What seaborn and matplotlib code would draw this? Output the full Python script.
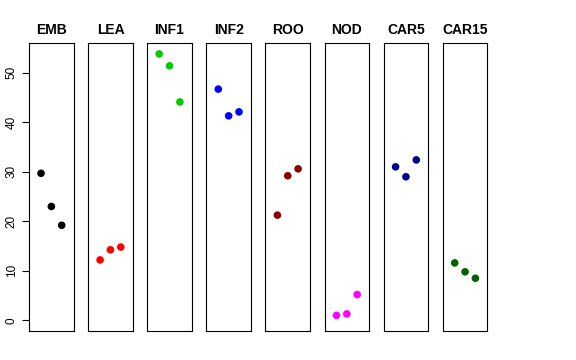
import matplotlib
matplotlib.use("Agg")
import matplotlib.pyplot as plt
import seaborn as sns
import pandas as pd

categories = ["EMB", "LEA", "INF1", "INF2", "ROO", "NOD", "CAR5", "CAR15"]
emb = [29.7, 23.0, 19.2]
lea = [12.2, 14.25, 14.8]
inf1 = [53.8, 51.4, 44.1]
inf2 = [46.7, 41.3, 42.1]
roo = [21.25, 29.2, 30.6]
nod = [1.0, 1.3, 5.2]
car5 = [31.0, 29.0, 32.4]
car15 = [11.6, 9.8, 8.5]
colors = ["#000000", "#FF0000", "#00CD00", "#0000FF", "#8B0000", "#FF00FF", "#00008B", "#006400"]
yticks = [0, 10, 20, 30, 40, 50]

values = [emb, lea, inf1, inf2, roo, nod, car5, car15]
rows = []
for c, vals in zip(categories, values):
    for i, v in enumerate(vals):
        rows.append({"tissue": c, "rep": i + 1, "value": v})
df = pd.DataFrame(rows)

sns.set_style("white")
plt.rcParams["font.family"] = ["Liberation Sans", "DejaVu Sans"]
plt.rcParams["text.color"] = "black"
plt.rcParams["axes.labelcolor"] = "black"
plt.rcParams["xtick.color"] = "black"
plt.rcParams["ytick.color"] = "black"

W, H = 576, 360
fig = plt.figure(figsize=(W / 100, H / 100), dpi=100)

ymax = max(max(v) for v in values)
ylo, yhi = 0 - 0.04 * ymax, ymax + 0.04 * ymax
left0, pitch, pw = 29, 59.1, 44.7
top, bottom = 43.3, 331

for k, (c, col) in enumerate(zip(categories, colors)):
    x0 = left0 + k * pitch
    ax = fig.add_axes([x0 / W, 1 - bottom / H, pw / W, (bottom - top) / H])
    sub = df[df["tissue"] == c]
    sns.scatterplot(data=sub, x="rep", y="value", color=col, ax=ax, s=30,
                    edgecolor="none", linewidth=0, legend=False)
    ax.set_xlim(-0.16, 4.16)
    ax.set_ylim(ylo, yhi)
    ax.set_xticks([])
    ax.set_xlabel("")
    ax.set_ylabel("")
    for s in ax.spines.values():
        s.set_color("black")
        s.set_linewidth(0.8)
    ax.set_title(c, fontsize=10, fontweight="bold", pad=7, color="black")
    if k == 0:
        ax.set_yticks(yticks)
        ax.set_yticklabels([str(t) for t in yticks], fontsize=8.5)
        ax.tick_params(axis="y", direction="out", length=5, width=0.8, color="black",
                       left=True, pad=3, labelrotation=90, labelcolor="black")
        for lab in ax.get_yticklabels():
            lab.set_verticalalignment("center")
    else:
        ax.set_yticks([])

fig.savefig("out.png", dpi=100)
